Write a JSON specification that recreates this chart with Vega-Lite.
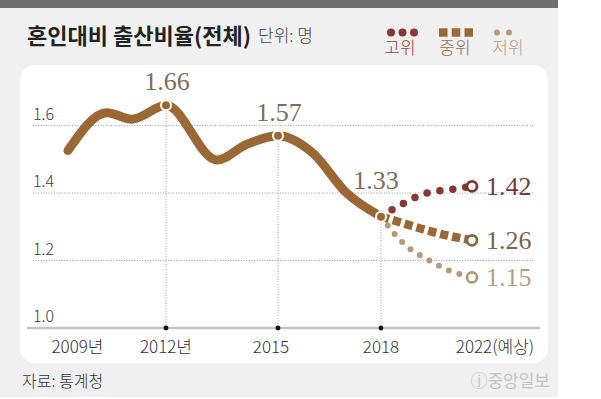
{
  "$schema": "https://vega.github.io/schema/vega-lite/v6.json",
  "background": "white",
  "padding": 0,
  "spacing": 0,
  "config": {
    "view": {"stroke": null},
    "axis": {"disable": true},
    "legend": {"disable": true},
    "font": "Noto Sans CJK KR"
  },
  "datasets": {
    "main": [
      {"year": 2009, "value": 1.526},
      {"year": 2010, "value": 1.638},
      {"year": 2011, "value": 1.619},
      {"year": 2012, "value": 1.66},
      {"year": 2013, "value": 1.498},
      {"year": 2014, "value": 1.545},
      {"year": 2015, "value": 1.57},
      {"year": 2016, "value": 1.52},
      {"year": 2017, "value": 1.40},
      {"year": 2018, "value": 1.33}
    ],
    "proj": [
      {"series": "고위", "year": 2018, "value": 1.33},
      {"series": "고위", "year": 2019, "value": 1.37},
      {"series": "고위", "year": 2020, "value": 1.40},
      {"series": "고위", "year": 2021, "value": 1.41},
      {"series": "고위", "year": 2022, "value": 1.42},
      {"series": "중위", "year": 2018, "value": 1.33},
      {"series": "중위", "year": 2019, "value": 1.31},
      {"series": "중위", "year": 2020, "value": 1.29},
      {"series": "중위", "year": 2021, "value": 1.273},
      {"series": "중위", "year": 2022, "value": 1.26},
      {"series": "저위", "year": 2018, "value": 1.33},
      {"series": "저위", "year": 2019, "value": 1.25},
      {"series": "저위", "year": 2020, "value": 1.205},
      {"series": "저위", "year": 2021, "value": 1.17},
      {"series": "저위", "year": 2022, "value": 1.15}
    ],
    "yticks": [{"v": 1.0}, {"v": 1.2}, {"v": 1.4}, {"v": 1.6}],
    "xlabels": [
      {"year": 2009, "label": "2009년"},
      {"year": 2012, "label": "2012년"},
      {"year": 2015, "label": "2015"},
      {"year": 2018, "label": "2018"},
      {"year": 2022, "label": "2022(예상)"}
    ],
    "one": [{}]
  },
  "vconcat": [
    {
      "width": 558,
      "height": 8,
      "view": {"fill": "#6e6e6e", "stroke": null},
      "data": {"name": "one"},
      "mark": {"type": "point", "opacity": 0},
      "encoding": {}
    },
    {
      "width": 558,
      "height": 389,
      "view": {"fill": "#f0f0f0", "stroke": null},
      "layer": [
        {
          "data": {"name": "one"},
          "mark": {"type": "rect", "fill": "white", "cornerRadius": 15},
          "encoding": {
            "x": {"datum": 2007.5, "type": "quantitative", "scale": {"domain": [2007.5, 2009, 2010, 2011, 2012, 2013, 2014, 2015, 2018, 2022, 2025], "range": [20, 68, 107, 132, 166, 217, 247, 278, 381, 472, 548], "nice": false, "zero": false}},
            "x2": {"datum": 2025},
            "y": {"datum": 0.8962, "type": "quantitative", "scale": {"domain": [1.0, 1.6], "range": [320, 117.6], "nice": false, "zero": false}},
            "y2": {"datum": 1.78}
          }
        },
        {
          "data": {"name": "yticks"},
          "transform": [{"filter": "datum.v > 1.05"}],
          "mark": {"type": "rule", "color": "#9a9a9a", "strokeWidth": 1, "strokeDash": [1, 1.6]},
          "encoding": {
            "y": {"field": "v", "type": "quantitative"},
            "x": {"datum": 2007.906, "type": "quantitative"},
            "x2": {"datum": 2024.487}
          }
        },
        {
          "data": {"name": "one"},
          "mark": {"type": "rule", "color": "#c4c4c4", "strokeWidth": 2.5},
          "encoding": {
            "y": {"datum": 1.0, "type": "quantitative"},
            "x": {"datum": 2007.72, "type": "quantitative"},
            "x2": {"datum": 2024.684}
          }
        },
        {
          "data": {"name": "main"},
          "transform": [{"filter": "datum.year == 2012 || datum.year == 2015 || datum.year == 2018"}],
          "mark": {"type": "rule", "color": "#9a9a9a", "strokeWidth": 1, "strokeDash": [1, 1.6]},
          "encoding": {
            "x": {"field": "year", "type": "quantitative"},
            "y": {"field": "value", "type": "quantitative"},
            "y2": {"datum": 1.0}
          }
        },
        {
          "data": {"name": "main"},
          "transform": [{"filter": "datum.year == 2012 || datum.year == 2015 || datum.year == 2018"}],
          "mark": {"type": "point", "filled": true, "color": "#111111", "size": 24, "opacity": 1},
          "encoding": {
            "x": {"field": "year", "type": "quantitative"},
            "y": {"datum": 1.0, "type": "quantitative"}
          }
        },
        {
          "data": {"name": "main"},
          "mark": {"type": "line", "interpolate": "monotone", "color": "#9a6834", "strokeWidth": 9, "strokeCap": "round", "strokeJoin": "round"},
          "encoding": {
            "x": {"field": "year", "type": "quantitative"},
            "y": {"field": "value", "type": "quantitative"}
          }
        },
        {
          "data": {"name": "proj"},
          "transform": [{"filter": "datum.series == '저위'"}],
          "mark": {"type": "line", "interpolate": "monotone", "color": "#b59a78", "strokeWidth": 6, "strokeDash": [0, 11], "strokeCap": "round"},
          "encoding": {
            "x": {"field": "year", "type": "quantitative"},
            "y": {"field": "value", "type": "quantitative"}
          }
        },
        {
          "data": {"name": "proj"},
          "transform": [{"filter": "datum.series == '고위'"}],
          "mark": {"type": "line", "interpolate": "monotone", "color": "#8b3535", "strokeWidth": 7.5, "strokeDash": [0, 13], "strokeCap": "round"},
          "encoding": {
            "x": {"field": "year", "type": "quantitative"},
            "y": {"field": "value", "type": "quantitative"}
          }
        },
        {
          "data": {"name": "proj"},
          "transform": [{"filter": "datum.series == '중위'"}],
          "mark": {"type": "line", "interpolate": "monotone", "color": "#9a6834", "strokeWidth": 8.5, "strokeDash": [8.3, 4], "strokeCap": "butt"},
          "encoding": {
            "x": {"field": "year", "type": "quantitative"},
            "y": {"field": "value", "type": "quantitative"}
          }
        },
        {
          "data": {"name": "main"},
          "transform": [{"filter": "datum.year == 2012 || datum.year == 2015 || datum.year == 2018"}],
          "mark": {"type": "point", "filled": true, "fill": "#9a6834", "stroke": "white", "strokeWidth": 2, "size": 100, "opacity": 1},
          "encoding": {
            "x": {"field": "year", "type": "quantitative"},
            "y": {"field": "value", "type": "quantitative"}
          }
        },
        {
          "data": {"name": "proj"},
          "transform": [{"filter": "datum.year == 2022"}],
          "mark": {"type": "point", "filled": false, "fill": "white", "fillOpacity": 1, "strokeWidth": 2.7, "size": 100, "opacity": 1},
          "encoding": {
            "x": {"field": "year", "type": "quantitative"},
            "y": {"field": "value", "type": "quantitative"},
            "stroke": {"field": "series", "type": "nominal", "scale": {"domain": ["고위", "중위", "저위"], "range": ["#7e3431", "#8a6340", "#b59a78"]}}
          }
        },
        {
          "data": {"name": "main"},
          "transform": [{"filter": "datum.year == 2012 || datum.year == 2015"}],
          "mark": {"type": "text", "font": "Liberation Serif", "fontSize": 26, "color": "#7f6c58", "baseline": "middle", "align": "center", "dy": -23, "dx": 1},
          "encoding": {
            "x": {"field": "year", "type": "quantitative"},
            "y": {"field": "value", "type": "quantitative"},
            "text": {"field": "value", "type": "quantitative", "format": ".2f"}
          }
        },
        {
          "data": {"name": "main"},
          "transform": [{"filter": "datum.year == 2018"}],
          "mark": {"type": "text", "font": "Liberation Serif", "fontSize": 26, "color": "#7f6c58", "baseline": "middle", "align": "center", "dy": -36, "dx": -5},
          "encoding": {
            "x": {"field": "year", "type": "quantitative"},
            "y": {"field": "value", "type": "quantitative"},
            "text": {"field": "value", "type": "quantitative", "format": ".2f"}
          }
        },
        {
          "data": {"name": "proj"},
          "transform": [{"filter": "datum.year == 2022"}],
          "mark": {"type": "text", "font": "Liberation Serif", "fontSize": 26, "baseline": "middle", "align": "left", "dx": 14, "dy": 1},
          "encoding": {
            "x": {"field": "year", "type": "quantitative"},
            "y": {"field": "value", "type": "quantitative"},
            "text": {"field": "value", "type": "quantitative", "format": ".2f"},
            "color": {"field": "series", "type": "nominal", "scale": {"domain": ["고위", "중위", "저위"], "range": ["#7a3a36", "#7d6347", "#b49d82"]}}
          }
        },
        {
          "data": {"name": "yticks"},
          "mark": {"type": "text", "fontSize": 16, "fontWeight": 300, "color": "#3a3a3a", "align": "left", "baseline": "middle", "dy": -11},
          "encoding": {
            "x": {"datum": 2007.906, "type": "quantitative"},
            "y": {"field": "v", "type": "quantitative"},
            "text": {"field": "v", "type": "quantitative", "format": ".1f"}
          }
        },
        {
          "data": {"name": "xlabels"},
          "transform": [{"filter": "datum.year == 2009"}],
          "mark": {"type": "text", "fontSize": 17, "fontWeight": 300, "color": "#333333", "align": "center", "baseline": "middle", "dx": 9.5},
          "encoding": {
            "x": {"field": "year", "type": "quantitative"},
            "y": {"datum": 0.9407, "type": "quantitative"},
            "text": {"field": "label"}
          }
        },
        {
          "data": {"name": "xlabels"},
          "transform": [{"filter": "datum.year == 2012 || datum.year == 2018"}],
          "mark": {"type": "text", "fontSize": 17, "fontWeight": 300, "color": "#333333", "align": "center", "baseline": "middle"},
          "encoding": {
            "x": {"field": "year", "type": "quantitative"},
            "y": {"datum": 0.9407, "type": "quantitative"},
            "text": {"field": "label"}
          }
        },
        {
          "data": {"name": "xlabels"},
          "transform": [{"filter": "datum.year == 2015"}],
          "mark": {"type": "text", "fontSize": 17, "fontWeight": 300, "color": "#333333", "align": "center", "baseline": "middle", "dx": -7},
          "encoding": {
            "x": {"field": "year", "type": "quantitative"},
            "y": {"datum": 0.9407, "type": "quantitative"},
            "text": {"field": "label"}
          }
        },
        {
          "data": {"name": "xlabels"},
          "transform": [{"filter": "datum.year == 2022"}],
          "mark": {"type": "text", "fontSize": 17, "fontWeight": 300, "color": "#333333", "align": "center", "baseline": "middle", "dx": 23},
          "encoding": {
            "x": {"field": "year", "type": "quantitative"},
            "y": {"datum": 0.9407, "type": "quantitative"},
            "text": {"field": "label"}
          }
        },
        {
          "data": {"name": "one"},
          "mark": {"type": "text", "fontSize": 22, "fontWeight": "bold", "color": "#222222", "align": "left", "baseline": "middle", "text": "혼인대비 출산비율(전체)"},
          "encoding": {
            "x": {"datum": 2007.72, "type": "quantitative"},
            "y": {"datum": 1.8627, "type": "quantitative"}
          }
        },
        {
          "data": {"name": "one"},
          "mark": {"type": "text", "fontSize": 17, "fontWeight": 300, "color": "#444444", "align": "left", "baseline": "middle", "text": "단위: 명"},
          "encoding": {
            "x": {"datum": 2014.355, "type": "quantitative"},
            "y": {"datum": 1.8627, "type": "quantitative"}
          }
        },
        {
          "data": {"name": "one"},
          "mark": {"type": "rule", "color": "#8b3535", "strokeWidth": 8, "strokeDash": [0, 11.5], "strokeCap": "round"},
          "encoding": {
            "x": {"datum": 2018.44, "type": "quantitative"},
            "x2": {"datum": 2019.451},
            "y": {"datum": 1.876, "type": "quantitative"}
          }
        },
        {
          "data": {"name": "one"},
          "mark": {"type": "rule", "color": "#9a6834", "strokeWidth": 8.5, "strokeDash": [8.5, 4.25], "strokeCap": "butt"},
          "encoding": {
            "x": {"datum": 2020.55, "type": "quantitative"},
            "x2": {"datum": 2022.04},
            "y": {"datum": 1.876, "type": "quantitative"}
          }
        },
        {
          "data": {"name": "one"},
          "mark": {"type": "rule", "color": "#b59a78", "strokeWidth": 6, "strokeDash": [0, 12], "strokeCap": "round"},
          "encoding": {
            "x": {"datum": 2022.987, "type": "quantitative"},
            "x2": {"datum": 2023.934},
            "y": {"datum": 1.876, "type": "quantitative"}
          }
        },
        {
          "data": {"name": "one"},
          "mark": {"type": "text", "fontSize": 17, "fontWeight": 300, "color": "#8e4040", "align": "center", "baseline": "middle", "text": "고위"},
          "encoding": {
            "x": {"datum": 2018.835, "type": "quantitative"},
            "y": {"datum": 1.8272, "type": "quantitative"}
          }
        },
        {
          "data": {"name": "one"},
          "mark": {"type": "text", "fontSize": 17, "fontWeight": 300, "color": "#9a6b3e", "align": "center", "baseline": "middle", "text": "중위"},
          "encoding": {
            "x": {"datum": 2021.253, "type": "quantitative"},
            "y": {"datum": 1.8272, "type": "quantitative"}
          }
        },
        {
          "data": {"name": "one"},
          "mark": {"type": "text", "fontSize": 17, "fontWeight": 300, "color": "#b59c80", "align": "center", "baseline": "middle", "text": "저위"},
          "encoding": {
            "x": {"datum": 2023.421, "type": "quantitative"},
            "y": {"datum": 1.8272, "type": "quantitative"}
          }
        },
        {
          "data": {"name": "one"},
          "mark": {"type": "text", "fontSize": 16, "fontWeight": 300, "color": "#333333", "align": "left", "baseline": "middle", "text": "자료: 통계청"},
          "encoding": {
            "x": {"datum": 2007.5625, "type": "quantitative"},
            "y": {"datum": 0.8399, "type": "quantitative"}
          }
        },
        {
          "data": {"name": "one"},
          "mark": {"type": "text", "fontSize": 17, "color": "#c4c4c4", "align": "right", "baseline": "middle", "text": "ⓙ중앙일보"},
          "encoding": {
            "x": {"datum": 2025.079, "type": "quantitative"},
            "y": {"datum": 0.8399, "type": "quantitative"}
          }
        }
      ]
    }
  ]
}
